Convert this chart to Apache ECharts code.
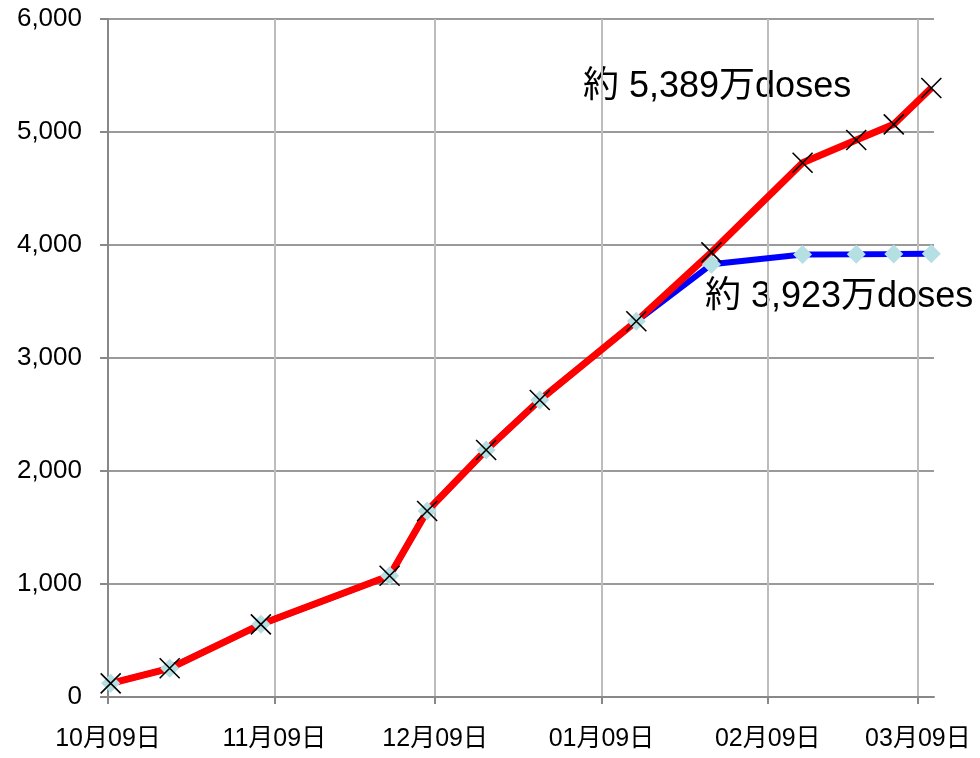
<!DOCTYPE html>
<html>
<head>
<meta charset="utf-8">
<script src="https://cdn.jsdelivr.net/npm/echarts@6/dist/echarts.min.js"></script>
<style>
html,body{margin:0;padding:0;background:#fff;}
#chart{width:980px;height:758px;}
</style>
</head>
<body>
<div id="chart"></div>
<script>
// ---- data ----
const dates = ['2009-10-09','2009-10-20','2009-11-06','2009-11-30','2009-12-07','2009-12-18','2009-12-28','2010-01-15','2010-01-29','2010-02-15','2010-02-25','2010-03-04','2010-03-11'];
const redValues  = [121, 254, 643, 1073, 1646, 2186, 2628, 3325, 3935, 4728, 4929, 5068, 5389];
const blueValues = [121, 254, 643, 1073, 1646, 2186, 2628, 3325, 3829, 3916, 3918, 3920, 3923];
const tickDates = ['2009-10-09','2009-11-09','2009-12-09','2010-01-09','2010-02-09','2010-03-09'];
const axisMinDate = '2009-10-09';
const axisMaxDate = '2010-03-12';
const yTicks = [0, 1000, 2000, 3000, 4000, 5000, 6000];
const annotationRed = '約 5,389万doses';
const annotationBlue = '約 3,923万doses';

function utc(s){ const p = s.split('-').map(Number); return Date.UTC(p[0], p[1]-1, p[2]); }
// points sit in the middle of their day slot, as on a daily date axis
function dayMid(s){ return utc(s) + 12 * 3600 * 1000; }
function pad(n){ return (n < 10 ? '0' : '') + n; }
function commas(v){ return String(v).replace(/\B(?=(\d{3})+(?!\d))/g, ','); }

const FONT = '"Liberation Sans", Arial, "Noto Sans CJK JP", sans-serif';
const tickValues = tickDates.map(utc);

const chart = echarts.init(document.getElementById('chart'), null, {renderer: 'canvas'});
chart.setOption({
  animation: false,
  backgroundColor: '#ffffff',
  grid: {left: 108, right: 46, top: 19, bottom: 61, containLabel: false},
  xAxis: {
    type: 'value',
    min: utc(axisMinDate),
    max: utc(axisMaxDate),
    axisLine: {show: true, onZero: false, lineStyle: {color: '#888888', width: 2}},
    axisTick: {show: true, length: 7, lineStyle: {color: '#888888', width: 2}, customValues: tickValues},
    splitLine: {show: true, lineStyle: {color: '#bdbdbd', width: 2}},
    axisLabel: {
      customValues: tickValues,
      margin: 30,
      color: '#000',
      fontSize: 25,
      fontFamily: FONT,
      formatter: function (v) { const d = new Date(v); return pad(d.getUTCMonth()+1) + '月' + pad(d.getUTCDate()) + '日'; }
    }
  },
  yAxis: {
    type: 'value',
    min: yTicks[0],
    max: yTicks[yTicks.length-1],
    interval: yTicks[1] - yTicks[0],
    axisLine: {show: true, lineStyle: {color: '#888888', width: 2}},
    axisTick: {show: true, length: 8, lineStyle: {color: '#888888', width: 2}},
    splitLine: {show: true, lineStyle: {color: '#9a9a9a', width: 2}},
    axisLabel: {margin: 26, color: '#000', fontSize: 26, fontFamily: FONT, formatter: commas}
  },
  series: [
    {
      type: 'line',
      data: dates.map((d, i) => [dayMid(d), blueValues[i]]),
      symbol: 'diamond',
      symbolSize: 19,
      showAllSymbol: true,
      lineStyle: {color: '#0000ff', width: 6},
      itemStyle: {color: '#b4dfe3', borderWidth: 0}
    },
    {
      type: 'line',
      data: dates.map((d, i) => [dayMid(d), redValues[i]]),
      symbol: 'path://M0,0L10,10M10,0L0,10',
      symbolSize: 20,
      showAllSymbol: true,
      lineStyle: {color: '#ff0000', width: 7},
      itemStyle: {color: 'rgba(0,0,0,0)', borderColor: '#000000', borderWidth: 1.6}
    }
  ],
  graphic: [
    {type: 'text', left: 583, top: 69, style: {text: annotationRed, font: '36px ' + FONT, fill: '#000'}},
    {type: 'text', left: 705, top: 279, style: {text: annotationBlue, font: '36px ' + FONT, fill: '#000'}}
  ]
});
</script>
</body>
</html>
